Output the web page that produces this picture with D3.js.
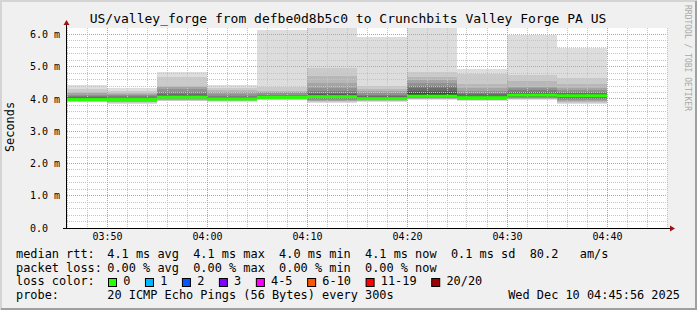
<!DOCTYPE html>
<html>
<head>
<meta charset="utf-8">
<script src="https://cdn.jsdelivr.net/npm/d3@7"></script>
<style>
body { margin: 0; background: #f0f0f0; }
text { font-family: "DejaVu Sans Mono", monospace; fill: #000; }
</style>
</head>
<body>
<div id="chart"></div>
<script>

// ---- data ----
const stepEnds = ["03:50", "03:55", "04:00", "04:05", "04:10", "04:15", "04:20", "04:25", "04:30", "04:35", "04:40"];

// 20 sorted ping rtts (ms) per 300s step
const pings = [
	[3.90, 3.92, 3.94, 3.95, 3.96, 3.97, 3.97, 3.98, 3.98, 3.98, 3.99, 4.00, 4.02, 4.05, 4.08, 4.12, 4.18, 4.22, 4.31, 4.43],
	[3.84, 3.87, 3.90, 3.92, 3.94, 3.95, 3.96, 3.97, 3.98, 3.98, 3.99, 4.00, 4.02, 4.04, 4.08, 4.12, 4.15, 4.20, 4.25, 4.33],
	[3.94, 3.95, 3.97, 3.98, 4.00, 4.02, 4.03, 4.05, 4.06, 4.06, 4.07, 4.09, 4.12, 4.16, 4.22, 4.30, 4.36, 4.40, 4.69, 4.84],
	[3.92, 3.94, 3.95, 3.96, 3.97, 3.98, 3.99, 4.00, 4.00, 4.00, 4.01, 4.02, 4.04, 4.06, 4.10, 4.15, 4.22, 4.27, 4.35, 4.43],
	[3.97, 3.98, 4.00, 4.01, 4.02, 4.03, 4.04, 4.04, 4.05, 4.05, 4.06, 4.07, 4.08, 4.10, 4.13, 4.18, 4.22, 4.26, 4.37, 6.14],
	[3.87, 3.90, 3.93, 3.95, 3.98, 4.00, 4.02, 4.04, 4.06, 4.07, 4.08, 4.10, 4.14, 4.20, 4.26, 4.33, 4.48, 4.72, 4.97, 6.40],
	[3.92, 3.94, 3.95, 3.96, 3.97, 3.98, 3.99, 4.00, 4.01, 4.01, 4.02, 4.03, 4.05, 4.08, 4.12, 4.18, 4.24, 4.30, 4.40, 5.92],
	[3.97, 3.99, 4.00, 4.02, 4.04, 4.06, 4.08, 4.09, 4.10, 4.10, 4.14, 4.20, 4.26, 4.33, 4.40, 4.48, 4.59, 4.69, 4.84, 6.40],
	[3.94, 3.96, 3.97, 3.98, 3.99, 4.00, 4.01, 4.02, 4.03, 4.04, 4.05, 4.07, 4.10, 4.14, 4.18, 4.24, 4.33, 4.45, 4.76, 4.94],
	[3.97, 3.99, 4.01, 4.03, 4.04, 4.06, 4.07, 4.08, 4.09, 4.11, 4.14, 4.16, 4.19, 4.23, 4.28, 4.33, 4.38, 4.55, 4.75, 5.98],
	[3.85, 3.88, 3.92, 3.95, 3.98, 4.01, 4.04, 4.06, 4.08, 4.09, 4.11, 4.13, 4.16, 4.19, 4.22, 4.28, 4.33, 4.45, 4.66, 5.57]
];

const medianRtt = [3.98, 3.98, 4.06, 4.00, 4.05, 4.07, 4.01, 4.09, 4.04, 4.12, 4.10];

const timeStart = "03:46";
const timeEnd = "04:46";
const yTickValues = [0, 1, 2, 3, 4, 5, 6];

const titleText = "US/valley_forge from defbe0d8b5c0 to Crunchbits Valley Forge PA US";
const yLabelText = "Seconds";
const watermark = "RRDTOOL / TOBI OETIKER";

const legendNames = ["median rtt:", "packet loss:", "loss color:", "probe:"];
const rttLine = "4.1 ms avg  4.1 ms max  4.0 ms min  4.1 ms now  0.1 ms sd  80.2   am/s";
const lossLine = "0.00 % avg  0.00 % max  0.00 % min  0.00 % now";
const lossLabels = ["0", "1", "2", "3", "4-5", "6-10", "11-19", "20/20"];
const lossColors = ["#26ff00", "#00b8ff", "#0059ff", "#7e00ff", "#ff00ff", "#ff5500", "#ff0000", "#a10000"];
const probeLine = "20 ICMP Echo Pings (56 Bytes) every 300s";
const dateLine = "Wed Dec 10 04:45:56 2025";


class SmokeGraph {

	constructor(parentElement) {
		this.parentElement = parentElement;
		this.parseTime = d3.timeParse("%H:%M");
		this.displayData = [];
	}

	initVis() {
		let vis = this;

		vis.totalWidth = 697;
		vis.totalHeight = 310;
		vis.plot = {left: 67, right: 667, top: 28, bottom: 228};

		vis.svg = d3.select("#" + vis.parentElement).append("svg")
			.attr("width", vis.totalWidth)
			.attr("height", vis.totalHeight);

		// background + 3d-ish frame
		vis.svg.append("rect")
			.attr("width", vis.totalWidth)
			.attr("height", vis.totalHeight)
			.attr("fill", "#f0f0f0");
		vis.svg.append("path")
			.attr("d", `M1,${vis.totalHeight} V1 H${vis.totalWidth}`)
			.attr("fill", "none").attr("stroke", "#d4d4d4").attr("stroke-width", 2);
		vis.svg.append("path")
			.attr("d", `M1,${vis.totalHeight - 1} H${vis.totalWidth - 1} V1`)
			.attr("fill", "none").attr("stroke", "#a0a0a0").attr("stroke-width", 2);

		vis.svg.append("rect")
			.attr("x", vis.plot.left)
			.attr("y", vis.plot.top)
			.attr("width", vis.plot.right - vis.plot.left)
			.attr("height", vis.plot.bottom - vis.plot.top)
			.attr("fill", "#fff");

		vis.svg.append("clipPath").attr("id", "plot-clip")
			.append("rect")
			.attr("x", vis.plot.left)
			.attr("y", vis.plot.top)
			.attr("width", vis.plot.right - vis.plot.left)
			.attr("height", vis.plot.bottom - vis.plot.top);

		// scales
		vis.x = d3.scaleTime()
			.domain([vis.parseTime(timeStart), vis.parseTime(timeEnd)])
			.range([vis.plot.left, vis.plot.right]);

		vis.y = d3.scaleLinear()
			.domain([0, 6.2])
			.range([vis.plot.bottom, vis.plot.top]);

		vis.smokeLayer = vis.svg.append("g").attr("clip-path", "url(#plot-clip)");
		vis.gridLayer = vis.svg.append("g");
		vis.medianLayer = vis.svg.append("g").attr("clip-path", "url(#plot-clip)");
		vis.axisLayer = vis.svg.append("g");

		vis.wrangleData();
	}

	wrangleData() {
		let vis = this;

		let half = 10;
		vis.displayData = [];
		vis.medians = [];

		stepEnds.forEach((t, i) => {
			let end = vis.parseTime(t);
			let start = d3.timeMinute.offset(end, -5);
			let sorted = pings[i];
			// smokeping style: band k spans ping k .. ping (n+1-k), outer bands lighter
			for (let k = 1; k <= half; k++) {
				let c = Math.floor(190 / half * (half - k)) + 50;
				vis.displayData.push({
					start: start, end: end, k: k,
					lo: sorted[k - 1], hi: sorted[sorted.length - k],
					color: d3.rgb(c, c, c).formatHex()
				});
			}
			vis.medians.push({start: start, end: end, value: medianRtt[i]});
		});

		vis.displayData.sort((a, b) => a.k - b.k);

		vis.updateVis();
	}

	updateVis() {
		let vis = this;

		// smoke
		vis.smokeLayer.selectAll(".smoke")
			.data(vis.displayData)
			.enter().append("rect")
			.attr("class", "smoke")
			.attr("x", d => vis.x(d.start))
			.attr("width", d => vis.x(d.end) - vis.x(d.start))
			.attr("y", d => vis.y(d.hi))
			.attr("height", d => vis.y(d.lo) - vis.y(d.hi))
			.attr("fill", d => d.color)
			.attr("shape-rendering", "crispEdges");

		// grid (dotted, drawn over the smoke like rrdtool)
		let minorY = d3.range(1, 31).map(i => i * 0.2).filter(v => Math.abs(v - Math.round(v)) > 0.01);
		let majorY = yTickValues.filter(v => v > 0);
		let minorX = vis.x.ticks(d3.timeMinute.every(2)).filter(d => d.getMinutes() % 10 !== 0);
		let majorX = vis.x.ticks(d3.timeMinute.every(10));

		let px = v => Math.floor(v) + 0.5;

		vis.gridLayer.selectAll(".hminor").data(minorY).enter().append("line")
			.attr("x1", vis.plot.left).attr("x2", vis.plot.right)
			.attr("y1", d => px(vis.y(d))).attr("y2", d => px(vis.y(d)))
			.attr("stroke", "#c4c4c4").attr("stroke-dasharray", "1,1");

		vis.gridLayer.selectAll(".vminor").data(minorX).enter().append("line")
			.attr("y1", vis.plot.top).attr("y2", vis.plot.bottom)
			.attr("x1", d => px(vis.x(d))).attr("x2", d => px(vis.x(d)))
			.attr("stroke", "#c4c4c4").attr("stroke-dasharray", "1,1");

		vis.gridLayer.selectAll(".hmajor").data(majorY).enter().append("line")
			.attr("x1", vis.plot.left).attr("x2", vis.plot.right)
			.attr("y1", d => px(vis.y(d))).attr("y2", d => px(vis.y(d)))
			.attr("stroke", "#f08c8c").attr("stroke-dasharray", "1,1");

		vis.gridLayer.selectAll(".vmajor").data(majorX).enter().append("line")
			.attr("y1", vis.plot.top).attr("y2", vis.plot.bottom)
			.attr("x1", d => px(vis.x(d))).attr("x2", d => px(vis.x(d)))
			.attr("stroke", "#f08c8c").attr("stroke-dasharray", "1,1");

		// median rtt (loss 0 colour), 3px band
		vis.medianLayer.selectAll(".median")
			.data(vis.medians)
			.enter().append("rect")
			.attr("class", "median")
			.attr("x", d => vis.x(d.start))
			.attr("width", d => vis.x(d.end) - vis.x(d.start))
			.attr("y", d => vis.y(d.value) - 1.5)
			.attr("height", 3)
			.attr("fill", lossColors[0]);

		// axes
		let xAxis = d3.axisBottom(vis.x)
			.ticks(d3.timeMinute.every(10))
			.tickFormat(d3.timeFormat("%H:%M"))
			.tickSize(0);
		let gx = vis.axisLayer.append("g")
			.attr("transform", `translate(0,${vis.plot.bottom})`)
			.call(xAxis);
		gx.select(".domain").remove();
		gx.selectAll("text")
			.attr("y", 12).attr("dy", null)
			.style("font-family", '"DejaVu Sans Mono", monospace')
			.style("font-size", "10px");

		let yAxis = d3.axisLeft(vis.y)
			.tickValues(yTickValues)
			.tickFormat(d => d === 0 ? "0.0" : d3.format(".1f")(d) + " m")
			.tickSize(0);
		let gy = vis.axisLayer.append("g")
			.attr("transform", `translate(${vis.plot.left},0)`)
			.call(yAxis);
		gy.select(".domain").remove();
		gy.selectAll("text")
			.attr("x", -37)
			.attr("text-anchor", "start")
			.style("font-family", '"DejaVu Sans Mono", monospace')
			.style("font-size", "10px");

		// axis lines with arrows
		vis.axisLayer.append("line")
			.attr("x1", vis.plot.left - 0.5).attr("x2", vis.plot.left - 0.5)
			.attr("y1", vis.plot.bottom + 0.5).attr("y2", vis.plot.top - 5)
			.attr("stroke", "#000");
		vis.axisLayer.append("line")
			.attr("x1", vis.plot.left - 4).attr("x2", vis.plot.right + 4)
			.attr("y1", vis.plot.bottom + 0.5).attr("y2", vis.plot.bottom + 0.5)
			.attr("stroke", "#000");
		vis.axisLayer.append("path")
			.attr("d", `M${vis.plot.left - 0.5},${vis.plot.top - 8} l-3,5 h6 z`)
			.attr("fill", "#a01010");
		vis.axisLayer.append("path")
			.attr("d", `M${vis.plot.right + 8},${vis.plot.bottom + 0.5} l-5,-3 v6 z`)
			.attr("fill", "#a01010");

		// title, y label, watermark
		vis.svg.append("text")
			.attr("x", 348).attr("y", 23)
			.attr("text-anchor", "middle")
			.style("font-size", "13px")
			.text(titleText);

		vis.svg.append("text")
			.attr("transform", "translate(13.5,127) rotate(-90)")
			.attr("text-anchor", "middle")
			.style("font-size", "11.9px")
			.text(yLabelText);

		vis.svg.append("text")
			.attr("transform", "translate(684.5,5) rotate(90)")
			.style("font-size", "8px")
			.style("fill", "#a8a8a8")
			.text(watermark);

		vis.drawLegend();
	}

	drawLegend() {
		let vis = this;

		let fs = 11.9;
		let adv = fs * 0.602;
		let baselines = [258, 271.5, 285, 298.5];
		let valueX = 107.3;

		let legend = vis.svg.append("g")
			.style("font-size", fs + "px")
			.attr("xml:space", "preserve");

		legend.selectAll(".lname").data(legendNames).enter().append("text")
			.attr("x", 16)
			.attr("y", (d, i) => baselines[i])
			.text(d => d);

		legend.append("text").attr("x", valueX).attr("y", baselines[0])
			.style("white-space", "pre").text(rttLine);
		legend.append("text").attr("x", valueX).attr("y", baselines[1])
			.style("white-space", "pre").text(lossLine);
		legend.append("text").attr("x", valueX).attr("y", baselines[3])
			.text(probeLine);
		legend.append("text").attr("x", 680).attr("y", baselines[3])
			.attr("text-anchor", "end").text(dateLine);

		// loss colour swatches
		let bx = 108.5;
		lossLabels.forEach((lab, i) => {
			legend.append("rect")
				.attr("x", bx).attr("y", 278.5)
				.attr("width", 8).attr("height", 8)
				.attr("fill", lossColors[i])
				.attr("stroke", "#000");
			legend.append("text")
				.attr("x", bx + 14.7).attr("y", baselines[2])
				.text(lab);
			bx = bx + 14.7 + lab.length * adv + 15.1;
		});
	}
}

let graph = new SmokeGraph("chart");
graph.initVis();

</script>
</body>
</html>
